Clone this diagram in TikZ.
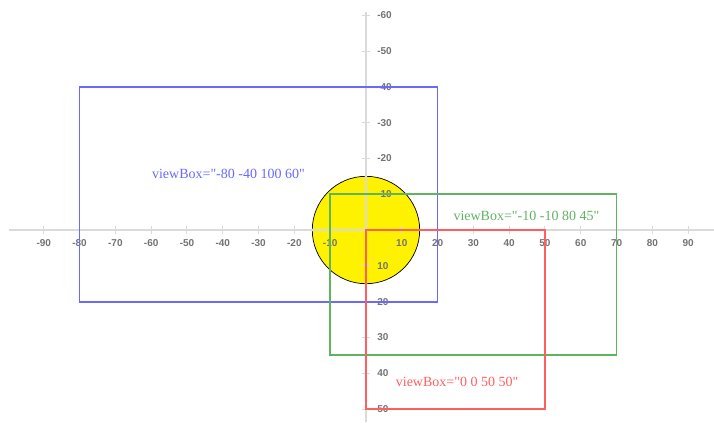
\documentclass[tikz,border=0pt]{standalone}
\usepackage{fontspec}
\setmainfont{Liberation Serif}
\newfontfamily\tickfont{Liberation Sans}
\definecolor{boxblue}{RGB}{105,105,255}
\definecolor{boxgreen}{RGB}{95,180,95}
\definecolor{boxred}{RGB}{255,95,95}
\definecolor{axisgray}{RGB}{218,218,218}
\definecolor{tickgray}{RGB}{115,115,115}
\begin{document}
\begin{tikzpicture}[x=3.58pt, y=-3.58pt, line width=1.8pt,
  ticklabel/.style={font=\tickfont\bfseries\fontsize{10}{11}\selectfont, text=tickgray, inner sep=0pt},
  boxlabel/.style={font=\fontsize{14}{16}\selectfont, inner sep=0pt, anchor=base west}]
  \useasboundingbox (-102.23,-64.25) rectangle (97.21,53.63);
  \fill[yellow] (0,0) circle (15);
  \draw[line width=0.7pt] (0,0) circle (15);
  % axes in user units
  \coordinate (xmin) at (-99.7,0);
  \coordinate (xmax) at (97.21,0);
  \coordinate (ymin) at (0,-61);
  \coordinate (ymax) at (0,53.63);
  \draw[axisgray, line width=1.2pt] (xmin) -- (xmax);
  \draw[axisgray, line width=1.2pt] (ymin) -- (ymax);
  \foreach \x in {-90,-80,...,-10,10,20,...,90} {
    \draw[axisgray, line width=1pt] (\x,-1) -- (\x,1);
    \node[ticklabel] (xt\x) at (\x,3.6) {\x};
  }
  \foreach \y in {-60,-50,...,-10,10,20,...,50} {
    \draw[axisgray, line width=1pt] (-1,\y) -- (1,\y);
    \node[ticklabel, anchor=west] (yt\y) at (2.9,\y) {\y};
  }
  \draw[boxblue] (-80,-40) rectangle (20,20);
  \draw[boxgreen] (-10,-10) rectangle (70,35);
  \draw[boxred] (0,0) rectangle (50,50);
  \node[boxlabel, text=boxblue] (blue) at (-60,-14.3) {viewBox=\textquotedbl-80 -40 100 60\textquotedbl};
  \node[boxlabel, text=boxgreen] (green) at (24.2,-2.6) {viewBox=\textquotedbl-10 -10 80 45\textquotedbl};
  \node[boxlabel, text=boxred] (red) at (8.1,43.8) {viewBox=\textquotedbl0 0 50 50\textquotedbl};
\end{tikzpicture}
\end{document}
